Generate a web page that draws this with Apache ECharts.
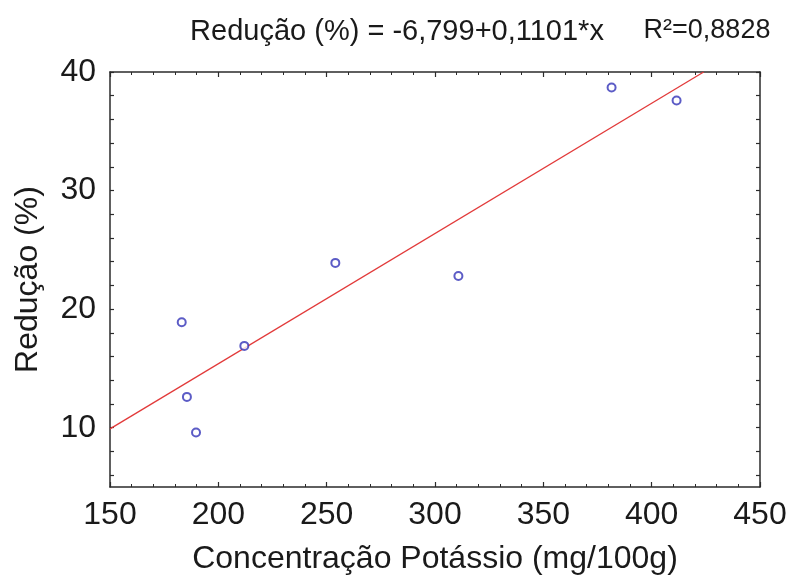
<!DOCTYPE html>
<html>
<head>
<meta charset="utf-8">
<script src="https://cdn.jsdelivr.net/npm/echarts@6/dist/echarts.min.js"></script>
<style>
html,body{margin:0;padding:0;background:#fff;}
#c{width:791px;height:585px;}
</style>
</head>
<body>
<div id="c"></div>
<script>
// Data
const potassio = [183.1, 185.5, 189.7, 212.0, 254.0, 310.8, 381.5, 411.5];
const reducao = [18.9, 12.6, 9.6, 16.9, 23.9, 22.8, 38.7, 37.6];
const fitX = [150, 424];
const fitY = [9.9, 40];
const xTicks = [150, 200, 250, 300, 350, 400, 450];
const yLabels = [10, 20, 30, 40];
const yTickMarks = [6, 8, 10, 12, 14, 16, 18, 20, 22, 24, 26, 28, 30, 32, 34, 36, 38, 40];
const titleText = 'Redução (%) = -6,799+0,1101*x';
const r2Text = 'R²=0,8828';
const xName = 'Concentração Potássio (mg/100g)';
const yName = 'Redução (%)';

const FONT = '"Liberation Sans", Arial, sans-serif';
const TXT = '#1a1a1a';
const AX = '#2b2b2b';

const chart = echarts.init(document.getElementById('c'), null, {renderer: 'canvas'});
const scatterData = potassio.map((x, i) => [x, reducao[i]]);
const lineData = fitX.map((x, i) => [x, fitY[i]]);

const xBase = {
  type: 'value', min: xTicks[0], max: xTicks[xTicks.length - 1], interval: 50,
  splitLine: {show: false},
  axisLine: {show: true, onZero: false, lineStyle: {color: AX, width: 1.5}},
  axisTick: {show: true, inside: true, length: 5, lineStyle: {color: AX, width: 1.2}},
  minorTick: {show: true, splitNumber: 5, length: 3, lineStyle: {color: AX, width: 1}}
};
const yBase = {
  type: 'value', min: 5, max: 40,
  splitLine: {show: false},
  axisLine: {show: true, onZero: false, lineStyle: {color: AX, width: 1.5}},
  axisTick: {show: true, inside: true, length: 4, customValues: yTickMarks, lineStyle: {color: AX, width: 1.2}}
};

chart.setOption({
  backgroundColor: '#ffffff',
  animation: false,
  grid: {left: 110, top: 72, right: 31, bottom: 98, containLabel: false},
  xAxis: [
    Object.assign({}, xBase, {
      position: 'bottom',
      name: xName, nameLocation: 'middle', nameGap: 56,
      nameTextStyle: {fontFamily: FONT, fontSize: 32, color: TXT},
      axisLabel: {show: true, margin: 12, fontFamily: FONT, fontSize: 32, color: TXT}
    }),
    Object.assign({}, xBase, {
      position: 'top',
      axisLabel: {show: false}
    })
  ],
  yAxis: [
    Object.assign({}, yBase, {
      position: 'left',
      name: yName, nameLocation: 'middle', nameGap: 66, nameRotate: 90,
      nameTextStyle: {fontFamily: FONT, fontSize: 32, color: TXT},
      axisLabel: {show: true, margin: 14, customValues: yLabels, fontFamily: FONT, fontSize: 32, color: TXT}
    }),
    Object.assign({}, yBase, {
      position: 'right',
      axisLabel: {show: false}
    })
  ],
  graphic: [
    {type: 'text', x: 397, y: 32,
     style: {text: titleText, fontFamily: FONT, fontSize: 29, fill: TXT, align: 'center', verticalAlign: 'middle'}},
    {type: 'text', x: 707, y: 31,
     style: {text: r2Text, fontFamily: FONT, fontSize: 27, fill: TXT, align: 'center', verticalAlign: 'middle'}}
  ],
  series: [
    {
      type: 'line', xAxisIndex: 0, yAxisIndex: 0,
      data: lineData, showSymbol: false, symbol: 'none',
      lineStyle: {color: '#e23a3a', width: 1.3},
      z: 2, silent: true
    },
    {
      type: 'scatter', xAxisIndex: 0, yAxisIndex: 0,
      data: scatterData, symbol: 'emptyCircle', symbolSize: 8,
      itemStyle: {color: '#3333b8', borderColor: '#3333b8', borderWidth: 1.7},
      z: 3
    }
  ]
});
</script>
</body>
</html>
